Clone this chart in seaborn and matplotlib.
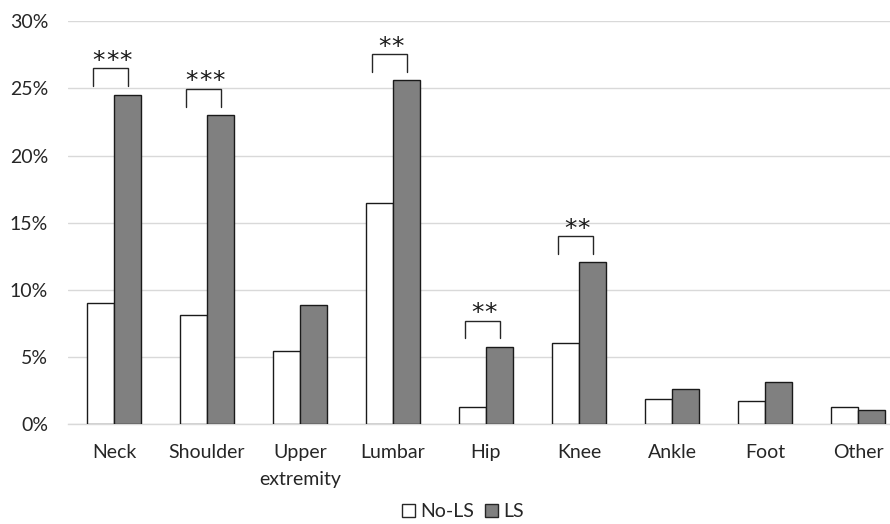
import matplotlib
matplotlib.use('Agg')
import matplotlib.pyplot as plt
import seaborn as sns
import pandas as pd
from matplotlib.patches import Patch
from matplotlib.ticker import FuncFormatter

# values (percent)
sites = ['Neck', 'Shoulder', 'Upper\nextremity', 'Lumbar', 'Hip', 'Knee', 'Ankle', 'Foot', 'Other']
no_ls = [9.0, 8.1, 5.45, 16.45, 1.28, 6.05, 1.88, 1.7, 1.27]
ls = [24.55, 23.0, 8.9, 25.6, 5.75, 12.05, 2.6, 3.12, 1.07]
sig = ['***', '***', '', '**', '**', '**', '', '', '']
groups = ['No-LS', 'LS']

df = pd.DataFrame({
    'site': sites * 2,
    'group': ['No-LS'] * len(sites) + ['LS'] * len(sites),
    'pct': no_ls + ls,
})

sns.set_style('white')
plt.rcParams['font.family'] = ['Lato', 'DejaVu Sans']

fig = plt.figure(figsize=(8.9, 5.24), dpi=100)
ax = fig.add_axes([67.5 / 890, 1 - 424.3 / 524, 837 / 890, 403 / 524])

sns.barplot(data=df, x='site', y='pct', hue='group', hue_order=groups,
            palette={'No-LS': 'white', 'LS': '#808080'}, width=0.58,
            edgecolor='#1a1a1a', linewidth=1.0, legend=False, ax=ax, zorder=3)

ax.set_xlim(-0.5, len(sites) - 0.5)
ax.set_ylim(0, 30)
ax.set_yticks(range(0, 31, 5))
ax.yaxis.set_major_formatter(FuncFormatter(lambda v, p: f'{int(v)}%'))
ax.grid(axis='y', color='#d9d9d9', linewidth=1.0, zorder=0)
ax.set_axisbelow(True)
for side in ['top', 'right', 'left']:
    ax.spines[side].set_visible(False)
ax.spines['bottom'].set_color('#d9d9d9')
ax.spines['bottom'].set_linewidth(1.0)
ax.spines['bottom'].set_zorder(1)
ax.tick_params(axis='both', length=0, labelsize=14, colors='#262626')
ax.tick_params(axis='y', pad=14)
ax.tick_params(axis='x', pad=14)
for lab in ax.get_xticklabels():
    lab.set_linespacing(1.75)
ax.set_xlabel('')
ax.set_ylabel('')

# significance brackets, stars drawn one by one so they get Excel-like spacing
star_step = 9.5  # points between stars
for i, s in enumerate(sig):
    if not s:
        continue
    lo = ls[i] + 0.65
    hi = ls[i] + 1.95
    x0, x1 = i - 0.225, i + 0.155
    ax.plot([x0, x0, x1, x1], [lo, hi, hi, lo], color='#262626', lw=1.0,
            zorder=4, solid_joinstyle='miter')
    n = len(s)
    for k in range(n):
        dx = (k - (n - 1) / 2) * star_step
        ax.annotate('*', xy=((x0 + x1) / 2, hi), xytext=(dx + 1, 0.5),
                    textcoords='offset points', ha='center', va='baseline',
                    fontsize=18, family='DejaVu Sans', color='#1a1a1a',
                    zorder=4)

handles = [Patch(facecolor='white', edgecolor='#262626', linewidth=1.0),
           Patch(facecolor='#808080', edgecolor='#262626', linewidth=1.0)]
fig.legend(handles, groups, loc='lower center', bbox_to_anchor=(0.52, -0.026),
           ncol=2, frameon=False, fontsize=14, handlelength=0.7,
           handleheight=0.7, handletextpad=0.25, columnspacing=0.55,
           labelcolor='#262626')

fig.savefig('out.png', dpi=100)
